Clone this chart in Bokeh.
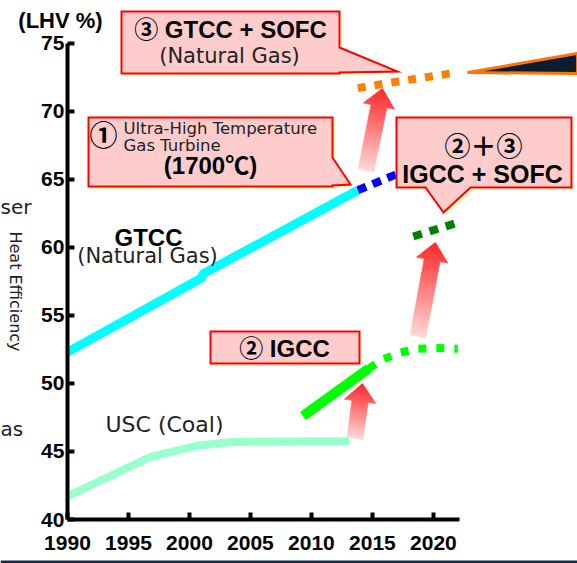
import math

from bokeh.plotting import figure
from bokeh.models import Label, FixedTicker
from bokeh.embed import file_html
from bokeh.resources import INLINE

# ---------------------------------------------------------------------------
# Data: thermal efficiency (LHV %) by year
# ---------------------------------------------------------------------------
usc_years = [1990, 1996.8, 2000.5, 2003.4, 2013.1]
usc_eff = [41.7, 44.6, 45.4, 45.7, 45.75]

gtcc_years = [1990, 2001.0, 2001.1, 2013.8]
gtcc_eff = [52.3, 57.75, 58.05, 64.2]

uhtgt_years = [2013.8, 2017.2]
uhtgt_eff = [64.2, 65.45]

gtcc_sofc_years = [2013.8, 2017.5, 2021.6]
gtcc_sofc_eff = [71.7, 72.25, 72.8]

igcc_years = [2009.3, 2014.7]
igcc_eff = [47.6, 51.1]

igcc_future_years = [2014.7, 2015.8, 2017.2, 2018.7, 2020.2, 2022.0]
igcc_future_eff = [51.1, 51.75, 52.25, 52.55, 52.6, 52.55]

igcc_sofc_years = [2018.35, 2022.1]
igcc_sofc_eff = [60.8, 61.85]

x_ticks = [1990, 1995, 2000, 2005, 2010, 2015, 2020]
y_ticks = [40, 45, 50, 55, 60, 65, 70, 75]

# improvement arrows: (from year, from eff) -> (to year, to eff)
arrow_steps = [
    ((2013.57, 45.96), (2014.18, 49.99)),
    ((2018.73, 53.45), (2020.16, 60.36)),
    ((2014.47, 65.65), (2015.82, 71.67)),
]

# ---------------------------------------------------------------------------
# Layout: the plot frame fills the whole canvas, axes sit at fixed locations
# ---------------------------------------------------------------------------
W, H = 577, 563
X_LO, X_HI = 1984.51, 2031.81
Y_LO, Y_HI = 36.77, 78.14
SX = W / (X_HI - X_LO)
SY = H / (Y_HI - Y_LO)


def dx(px):
    """canvas x (pixels from left) -> year"""
    return X_LO + px / SX


def dy(py):
    """canvas y (pixels from top) -> efficiency"""
    return Y_HI - py / SY


BOLD = "Liberation Sans, Noto Sans CJK JP"
PLAIN = "DejaVu Sans"

p = figure(width=W, height=H, x_range=(X_LO, X_HI), y_range=(Y_LO, Y_HI),
           output_backend="svg", toolbar_location=None, min_border=0)
p.background_fill_color = "white"
p.border_fill_color = "white"
p.outline_line_color = None
p.grid.visible = False

for ax in (p.xaxis, p.yaxis):
    ax.axis_line_width = 4
    ax.axis_line_color = "black"
    ax.major_tick_in = 7
    ax.major_tick_out = 0
    ax.major_tick_line_width = 4
    ax.minor_tick_line_color = None
    ax.major_label_text_font = "Liberation Sans"
    ax.major_label_text_font_style = "bold"
    ax.major_label_text_font_size = "21px"
    ax.major_label_text_color = "black"

p.xaxis.ticker = FixedTicker(ticks=x_ticks)
p.xaxis.bounds = (1990, 2022.1)
p.xaxis.fixed_location = 40
p.xaxis.major_label_standoff = 16
p.yaxis.ticker = FixedTicker(ticks=y_ticks)
p.yaxis.bounds = (40, 75)
p.yaxis.fixed_location = 1990
p.yaxis.major_label_standoff = 3

# ---------------------------------------------------------------------------
# Efficiency lines
# ---------------------------------------------------------------------------
p.line(usc_years, usc_eff, line_color="#99FFCC", line_width=8, line_cap="butt")
p.line(gtcc_years, gtcc_eff, line_color="#00FFFF", line_width=9, line_cap="butt")
p.line(uhtgt_years, uhtgt_eff, line_color="#0000FF", line_width=8,
       line_dash="9 7", line_cap="butt")
p.line(gtcc_sofc_years, gtcc_sofc_eff, line_color="#FF7F00", line_width=8,
       line_dash="8 9", line_cap="butt")
p.line(igcc_years, igcc_eff, line_color="#00FF00", line_width=10, line_cap="butt")
p.line(igcc_future_years, igcc_future_eff, line_color="#00FF00", line_width=8,
       line_dash="8 10", line_cap="butt")
p.line(igcc_sofc_years, igcc_sofc_eff, line_color="#008000", line_width=8,
       line_dash="9 8", line_cap="butt")

# long-term trend wedge at the top right
p.patch([dx(467), dx(577), dx(577)], [dy(72), dy(53), dy(73)],
        fill_color="#0B1B30", line_color="#FF7300", line_width=3,
        line_join="miter")


# ---------------------------------------------------------------------------
# Gradient arrows (pale at the tail, red at the tip)
# ---------------------------------------------------------------------------
def arrow_slices(tail, tip, shaft=16, head_w=32, head_len=18, n=22, m=10):
    tx, ty = (tail[0] - X_LO) * SX, (tail[1] - Y_LO) * SY
    hx, hy = (tip[0] - X_LO) * SX, (tip[1] - Y_LO) * SY
    length = math.hypot(hx - tx, hy - ty)
    ux, uy = (hx - tx) / length, (hy - ty) / length
    nx, ny = -uy, ux

    def pt(s, off):
        x = tx + ux * s + nx * off
        y = ty + uy * s + ny * off
        return X_LO + x / SX, Y_LO + y / SY

    def colour(t):
        c0, c1 = (255, 218, 218), (255, 38, 38)
        r, g, b = (round(a + (bb - a) * t) for a, bb in zip(c0, c1))
        return "#%02X%02X%02X" % (r, g, b)

    xs, ys, cols = [], [], []
    base = length - head_len
    for i in range(n):
        s0 = base * i / n
        s1 = min(base * (i + 1) / n + 0.6, base + 0.5)
        quad = [pt(s0, -shaft / 2), pt(s1, -shaft / 2),
                pt(s1, shaft / 2), pt(s0, shaft / 2)]
        xs.append([q[0] for q in quad])
        ys.append([q[1] for q in quad])
        cols.append(colour((s0 + s1) / 2 / length))
    for j in range(m):
        s0 = base + head_len * j / m
        s1 = min(base + head_len * (j + 1) / m + 0.4, length)
        w0 = head_w / 2 * (length - s0) / head_len
        w1 = head_w / 2 * max(length - s1, 0) / head_len
        quad = [pt(s0, -w0), pt(s1, -w1), pt(s1, w1), pt(s0, w0)]
        xs.append([q[0] for q in quad])
        ys.append([q[1] for q in quad])
        cols.append(colour((s0 + s1) / 2 / length))
    return xs, ys, cols


for tail, tip in arrow_steps:
    axs, ays, acols = arrow_slices(tail, tip)
    p.patches(axs, ays, fill_color=acols, line_color=acols, line_width=0.6)


# ---------------------------------------------------------------------------
# Callout boxes
# ---------------------------------------------------------------------------
def callout(points):
    xs = [dx(a) for a, _ in points]
    ys = [dy(b) for _, b in points]
    sxs = [dx(a + 2.5) for a, _ in points]
    sys_ = [dy(b + 2.5) for _, b in points]
    p.patch(sxs, sys_, fill_color="#FFFFB8", line_color=None)
    p.patch(xs, ys, fill_color="#FFCCCC", line_color="#FF0000",
            line_width=2, line_join="miter")


callout([(121, 11), (339, 11), (339, 47), (397, 71), (339, 72), (339, 73), (121, 73)])
callout([(88, 117), (332, 117), (332, 157), (350, 184), (332, 185), (332, 186), (88, 186)])
callout([(396, 117), (571, 117), (571, 187), (470, 187), (443, 212), (425, 187), (396, 187)])
callout([(210, 331), (359, 331), (359, 363), (210, 363)])


# ---------------------------------------------------------------------------
# Texts
# ---------------------------------------------------------------------------
def label(text, px, py, font, size, bold=False, align="center",
          color="black", angle=0.0):
    p.add_layout(Label(x=dx(px), y=dy(py), text=text, text_font=font,
                       text_font_size=size, text_color=color,
                       text_font_style="bold" if bold else "normal",
                       text_align=align, text_baseline="middle", angle=angle))


label("(LHV %)", 60, 20, BOLD, "22px", bold=True)
label("③ GTCC + SOFC", 230, 29, BOLD, "24px", bold=True)
label("(Natural Gas)", 229, 55, PLAIN, "21px", color="#222222")

label("①", 103, 133, "Noto Sans CJK JP", "28px", bold=True)
label("Ultra-High Temperature", 123, 128, PLAIN, "16.5px", align="left", color="#222222")
label("Gas Turbine", 123, 145, PLAIN, "16.5px", align="left", color="#222222")
label("(1700℃)", 210, 165, BOLD, "24px", bold=True)

label("②＋③", 483, 144, "Noto Sans CJK JP", "26px", bold=True)
label("IGCC + SOFC", 482, 173, BOLD, "25px", bold=True)

label("② IGCC", 284, 348, BOLD, "24px", bold=True)

label("GTCC", 148, 237, BOLD, "24px", bold=True)
label("(Natural Gas)", 147, 255, PLAIN, "21px", color="#222222")
label("USC (Coal)", 164, 424, PLAIN, "22px", color="#222222")

label("Heat Efficiency", 15, 291, PLAIN, "16px", color="#222222",
      angle=-math.pi / 2)
label("ser", 0, 206, PLAIN, "20px", align="left", color="#222222")
label("as", 0, 428, PLAIN, "20px", align="left", color="#222222")

# thin dark rule along the bottom edge
p.quad(left=[dx(0)], right=[dx(W)], bottom=[dy(H)], top=[dy(H - 3)],
       fill_color="#1B2A45", line_color=None)

with open("out.html", "w", encoding="utf-8") as fh:
    fh.write(file_html(p, INLINE))
